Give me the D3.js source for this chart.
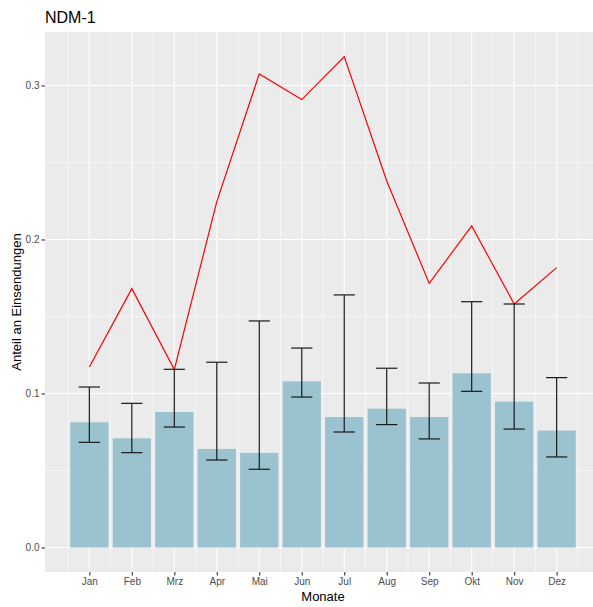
<!DOCTYPE html>
<html>
<head>
<meta charset="utf-8">
<script src="https://cdn.jsdelivr.net/npm/d3@7"></script>
<style>
  html, body { margin:0; padding:0; background:#fff; overflow:hidden; }
  svg { display:block; font-family:"Liberation Sans", Arial, sans-serif; }
</style>
</head>
<body>
<div id="chart"></div>
<script>
// data
const months = ['Jan','Feb','Mrz','Apr','Mai','Jun','Jul','Aug','Sep','Okt','Nov','Dez'];
const anteil = [0.0813,0.0709,0.0880,0.0640,0.0614,0.1079,0.0847,0.0901,0.0847,0.1131,0.0947,0.0759];
const lower  = [0.0683,0.0616,0.0782,0.0568,0.0508,0.0977,0.0750,0.0798,0.0705,0.1014,0.0769,0.0588];
const upper  = [0.1042,0.0936,0.1157,0.1203,0.1471,0.1295,0.1640,0.1164,0.1068,0.1596,0.1581,0.1103];
const redLine = [0.1172,0.1681,0.1155,0.2246,0.3075,0.2908,0.3187,0.2380,0.1715,0.2088,0.1581,0.1817];
const yTicks = [0, 0.1, 0.2, 0.3];
const yMinor = [0.05, 0.15, 0.25];

const W = 593, H = 607;
const m = {left:45, top:32, right:-8, bottom:35};
const pw = W - m.left - m.right, ph = H - m.top - m.bottom;

const svg = d3.select('#chart').append('svg').attr('width', W).attr('height', H);

// continuous month axis (1..12), cropped on the right like the original
const x = d3.scaleLinear().domain([-0.044, 13.044]).range([0, pw]);
const y = d3.scaleLinear().domain([-0.0159, 0.3347]).range([ph, 0]);

const g = svg.append('g').attr('transform', `translate(${m.left},${m.top})`);

g.append('rect').attr('width', pw).attr('height', ph).attr('fill', '#EBEBEB');

// grid
const monthIdx = months.map((d,i)=>i+1);
const xMinor = d3.range(0.5, 13, 1);
g.selectAll('.ymin').data(yMinor).enter().append('line')
  .attr('x1',0).attr('x2',pw).attr('y1',d=>y(d)).attr('y2',d=>y(d))
  .attr('stroke','#fff').attr('stroke-width',0.55);
g.selectAll('.xmin').data(xMinor).enter().append('line')
  .attr('y1',0).attr('y2',ph).attr('x1',d=>x(d)).attr('x2',d=>x(d))
  .attr('stroke','#fff').attr('stroke-width',0.55);
g.selectAll('.ymaj').data(yTicks).enter().append('line')
  .attr('x1',0).attr('x2',pw).attr('y1',d=>y(d)).attr('y2',d=>y(d))
  .attr('stroke','#fff').attr('stroke-width',1.1);
g.selectAll('.xmaj').data(monthIdx).enter().append('line')
  .attr('y1',0).attr('y2',ph).attr('x1',d=>x(d)).attr('x2',d=>x(d))
  .attr('stroke','#fff').attr('stroke-width',1.1);

// bars
const bw = x(0.9) - x(0);
g.selectAll('.bar').data(anteil).enter().append('rect')
  .attr('x',(d,i)=>x(i+1)-bw/2).attr('width',bw)
  .attr('y',d=>y(d)).attr('height',d=>y(0)-y(d))
  .attr('fill','#9AC2CF');

// red line
g.append('path').datum(redLine)
  .attr('fill','none').attr('stroke','#FF0000').attr('stroke-width',1.2)
  .attr('d', d3.line().x((d,i)=>x(i+1)).y(d=>y(d)));

// error bars
const cw = x(0.5) - x(0);
const eb = g.selectAll('.err').data(months).enter().append('g')
  .attr('stroke','#1a1a1a').attr('stroke-width',1.2);
eb.append('line').attr('x1',(d,i)=>x(i+1)).attr('x2',(d,i)=>x(i+1))
  .attr('y1',(d,i)=>y(lower[i])).attr('y2',(d,i)=>y(upper[i]));
eb.append('line').attr('x1',(d,i)=>x(i+1)-cw/2).attr('x2',(d,i)=>x(i+1)+cw/2)
  .attr('y1',(d,i)=>y(lower[i])).attr('y2',(d,i)=>y(lower[i]));
eb.append('line').attr('x1',(d,i)=>x(i+1)-cw/2).attr('x2',(d,i)=>x(i+1)+cw/2)
  .attr('y1',(d,i)=>y(upper[i])).attr('y2',(d,i)=>y(upper[i]));

// axes
const yAxis = g.append('g').call(d3.axisLeft(y).tickValues(yTicks).tickFormat(d3.format('.1f')).tickSize(3.5).tickPadding(2));
const xAxis = g.append('g').attr('transform',`translate(0,${ph})`)
  .call(d3.axisBottom(x).tickValues(monthIdx).tickFormat(d=>months[d-1]).tickSize(3.5).tickPadding(2.5));
[yAxis, xAxis].forEach(a=>{
  a.select('.domain').remove();
  a.selectAll('.tick line').attr('stroke','#333').attr('stroke-width',1.1);
  a.selectAll('.tick text').attr('fill','#4D4D4D').style('font-size','10px');
});

// titles
svg.append('text').attr('x',m.left).attr('y',23).text('NDM-1')
  .style('font-size','16px').attr('fill','#000');
svg.append('text').attr('x',m.left+pw/2).attr('y',601).attr('text-anchor','middle')
  .text('Monate').style('font-size','13px').attr('fill','#000');
svg.append('text').attr('transform',`translate(21,${m.top+ph/2}) rotate(-90)`)
  .attr('text-anchor','middle').text('Anteil an Einsendungen')
  .style('font-size','13px').attr('fill','#000');
</script>
</body>
</html>
